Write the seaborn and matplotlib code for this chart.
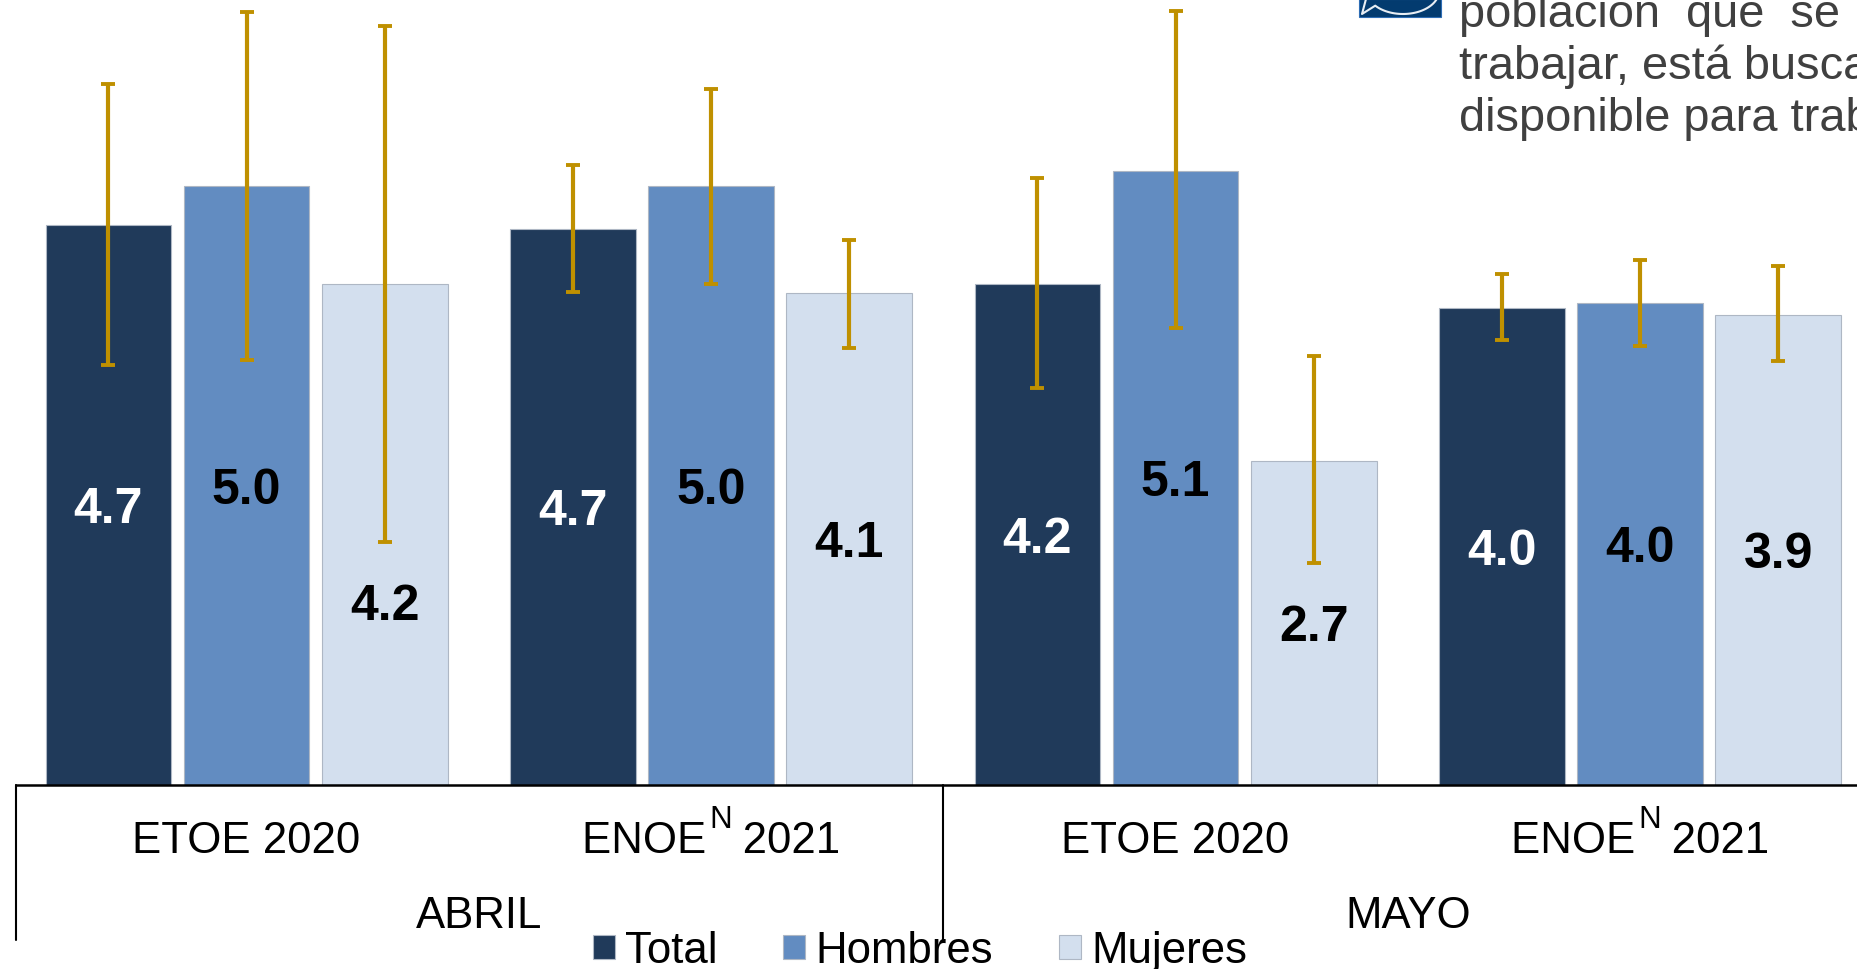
import numpy as np
import pandas as pd
import matplotlib
matplotlib.use("Agg")
import matplotlib.pyplot as plt
from matplotlib.lines import Line2D
from matplotlib.patches import Rectangle
import seaborn as sns

# values
groups = ["ABRIL ETOE", "ABRIL ENOE", "MAYO ETOE", "MAYO ENOE"]
tick_labels = ["ETOE 2020", "ENOE   2021", "ETOE 2020", "ENOE   2021"]
months = ["ABRIL", "MAYO"]
series = ["Total", "Hombres", "Mujeres"]
total = [4.69, 4.66, 4.20, 4.00]
hombres = [5.02, 5.02, 5.149, 4.04]
mujeres = [4.20, 4.12, 2.72, 3.94]
total_low = [3.52, 4.13, 3.33, 3.73]
total_high = [5.88, 5.20, 5.09, 4.28]
hombres_low = [3.56, 4.20, 3.83, 3.68]
hombres_high = [6.48, 5.83, 6.49, 4.40]
mujeres_low = [2.04, 3.66, 1.86, 3.55]
mujeres_high = [6.36, 4.57, 3.60, 4.35]
note_lines = ["población  que  se  encuentra", "trabajar, está buscando", "disponible para trabajar"]

colors = ["#203A5A", "#628CC1", "#D3DFEE"]
gold = "#BF9000"

sns.set_theme(style="white")
plt.rcParams["font.family"] = ["Liberation Sans", "DejaVu Sans"]

W, H = 1857, 970
base = 786
fig = plt.figure(figsize=(W / 100, H / 100), dpi=100)
# the plot runs past the right edge of the picture on purpose
ax = fig.add_axes([14.3 / W, (H - base) / H, 4 * 464.5 / W, base / H])

df = pd.DataFrame({
    "grupo": groups * 3,
    "serie": np.repeat(series, 4),
    "valor": total + hombres + mujeres,
})
sns.barplot(data=df, x="grupo", y="valor", hue="serie", palette=colors,
            width=0.892, gap=0.09, saturation=1, errorbar=None, ax=ax,
            edgecolor="#AEB7C4", linewidth=0.8)
ax.set_xlim(-0.5, 3.5)
ax.set_ylim(0, base / 119.3)

lows = [total_low, hombres_low, mujeres_low]
highs = [total_high, hombres_high, mujeres_high]
for cont, vals, low, high, col in zip(ax.containers, [total, hombres, mujeres], lows, highs,
                                      ["white", "black", "black"]):
    xs = [b.get_x() + b.get_width() / 2 for b in cont]
    err = [np.array(vals) - np.array(low), np.array(high) - np.array(vals)]
    ax.errorbar(xs, vals, yerr=err, fmt="none", ecolor=gold, elinewidth=3,
                capsize=5.2, capthick=2.8, zorder=4)
    labels = ax.bar_label(cont, fmt="%.1f", label_type="center", color=col, fontsize=36,
                          fontweight="bold", zorder=5)
    for t in labels:
        t.xyann = (0, -3)

# this label sits under the long whisker in the original
mujeres_first = [t for t in ax.texts if t.get_text() == "4.2" and t.get_color() == "black"][0]
mujeres_first.xyann = (0, -51.5)

ax.set_xlabel("")
ax.set_ylabel("")
ax.set_yticks([])
ax.set_xticks(range(4))
ax.set_xticklabels(tick_labels, fontsize=31.5, color="black")
ax.tick_params(axis="x", length=0, pad=25)
sns.despine(ax=ax, left=True)
ax.spines["bottom"].set_color("black")
ax.spines["bottom"].set_linewidth(1.8)
ax.spines["bottom"].set_bounds(-0.497, 3.5)

# raised N between ENOE and the year
trans = ax.get_xaxis_transform()
for x in [1, 3]:
    ax.annotate("N", xy=(x, 0), xycoords=trans, xytext=(6.8, -24.5), textcoords="offset points",
                ha="center", va="center", fontsize=22.5, color="black", annotation_clip=False)

# month level of the axis
for x in [-0.497, 1.5]:
    ax.plot([x, x], [0, -155 / base], color="black", lw=1.5, transform=trans, clip_on=False)
for x, name in zip([0.5, 2.5], months):
    ax.text(x, -131 / base, name, transform=trans, ha="center", va="center",
            fontsize=31.5, color="black")

handles = ax.get_legend_handles_labels()
ax.get_legend().remove()
fig.legend(handles[0], handles[1], loc="center", bbox_to_anchor=(920 / W, (H - 952) / H),
           ncols=3, frameon=False, fontsize=31.5, handlelength=0.5, handleheight=0.5,
           handletextpad=0.24, columnspacing=1.5, borderpad=0, labelcolor="black")

# icon and note cut off by the top and right edges
fig.add_artist(Rectangle((1359 / W, (H - 18) / H), 82 / W, 18 / H, transform=fig.transFigure,
                         facecolor="#033B6F", edgecolor="#2E6DB4", lw=0.8))
fig.add_artist(Rectangle((1392 / W, (H - 1) / H), 16 / W, 1 / H, transform=fig.transFigure,
                         facecolor="#B8C2CC", edgecolor="none"))
t = np.linspace(np.pi * 0.78, np.pi * 0.10, 40)
arc_x = 1403 + 36 * np.cos(t)
arc_y = -8 + 23 * np.sin(t)
bubble_x = np.concatenate([[1366, 1362], arc_x])
bubble_y = np.concatenate([[0, 15], arc_y])
fig.add_artist(Line2D(bubble_x / W, (H - bubble_y) / H, transform=fig.transFigure,
                      color="#E8EEF4", lw=1.5))
for line, y in zip(note_lines, [27, 79, 131]):
    fig.text(1459 / W, (H - y) / H, line, fontsize=33.8, color="#404040", va="baseline")

fig.savefig("out.png", dpi=100)
